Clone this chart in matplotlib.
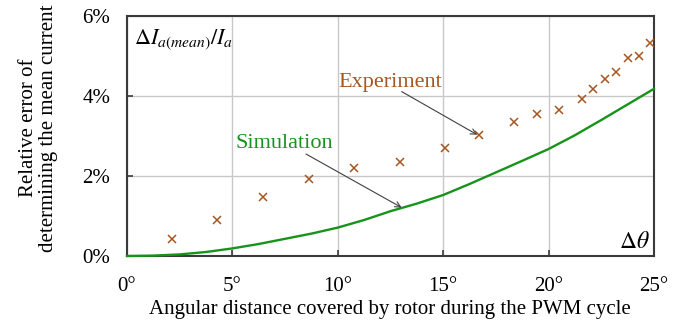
import matplotlib
matplotlib.use("Agg")
import matplotlib.pyplot as plt
import numpy as np

# Data
exp_angle = [2.12, 4.29, 6.45, 8.62, 10.78, 12.95, 15.08, 16.71, 18.36, 19.43,
             20.51, 21.58, 22.12, 22.68, 23.21, 23.75, 24.29, 24.81]
exp_err = [0.42, 0.90, 1.47, 1.92, 2.21, 2.36, 2.70, 3.03, 3.36, 3.54,
           3.66, 3.92, 4.18, 4.43, 4.60, 4.96, 5.00, 5.33]

sim_angle = [0, 1.25, 2.5, 3.75, 5, 6.25, 7.5, 8.75, 10, 11.25, 12.5, 13.75,
             15, 16.25, 17.5, 18.75, 20, 21.25, 22.5, 23.75, 25]
sim_err = [0.0, 0.01, 0.04, 0.10, 0.19, 0.30, 0.43, 0.56, 0.71, 0.90, 1.12, 1.31,
           1.525, 1.80, 2.09, 2.38, 2.675, 3.02, 3.40, 3.79, 4.18]

x_ticks = [0, 5, 10, 15, 20, 25]
x_labels = ["0°", "5°", "10°", "15°", "20°", "25°"]
y_ticks = [0, 2, 4, 6]
y_labels = ["0%", "2%", "4%", "6%"]

plt.rcParams['font.family'] = ['Liberation Serif', 'DejaVu Serif']
plt.rcParams['mathtext.fontset'] = 'stix'

exp_color = '#a8561f'
sim_color = '#17931b'

fig = plt.figure(figsize=(6.88, 3.22), dpi=100)
ax = fig.add_axes([127/688, 1-256/322, (654-127)/688, (256-16)/322])

ax.plot(sim_angle, sim_err, color=sim_color, lw=1.7, zorder=3, clip_on=False)
ax.plot(exp_angle, exp_err, linestyle='none', marker='x', color=exp_color,
        markersize=6, mew=1.1, zorder=4, clip_on=False)

ax.set_xlim(0, 25)
ax.set_ylim(0, 6)
ax.set_xticks(x_ticks)
ax.set_xticklabels(x_labels)
ax.set_yticks(y_ticks)
ax.set_yticklabels(y_labels)
ax.grid(True, color='#c8c8c8', lw=1.0)
ax.set_axisbelow(True)
for s in ax.spines.values():
    s.set_color('#3a3a3a')
    s.set_linewidth(1.5)
ax.tick_params(direction='in', length=4.5, width=1.2, color='#3a3a3a',
               labelsize=15)
ax.tick_params(axis='x', pad=15)
ax.tick_params(axis='y', pad=12)

fig.text(390/688, 1-314/322, "Angular distance covered by rotor during the PWM cycle",
         ha='center', va='baseline', fontsize=15)
fig.text(38.5/688, 1-128/322, "Relative error of\ndetermining the mean current",
         ha='center', va='center', rotation=90, fontsize=15, linespacing=1.08)

ax.text(0.013, 0.90, r'$\Delta I_{a(mean)}/I_a$', transform=ax.transAxes,
        ha='left', va='center', fontsize=16)
ax.text(0.992, 0.055, r'$\Delta\theta$', transform=ax.transAxes,
        ha='right', va='center', fontsize=17)

ax.text(12.49, 4.225, "Experiment", color=exp_color, fontsize=16,
        ha='center', va='baseline')
ax.text(7.45, 2.70, "Simulation", color=sim_color, fontsize=16,
        ha='center', va='baseline')
ax.annotate("", xy=(16.62, 3.03), xytext=(13.03, 4.11),
            arrowprops=dict(arrowstyle='->', color='#404040', lw=0.8,
                            shrinkA=0, shrinkB=0))
ax.annotate("", xy=(13.03, 1.21), xytext=(8.49, 2.55),
            arrowprops=dict(arrowstyle='->', color='#404040', lw=0.8,
                            shrinkA=0, shrinkB=0))

fig.savefig("out.png", dpi=100)
